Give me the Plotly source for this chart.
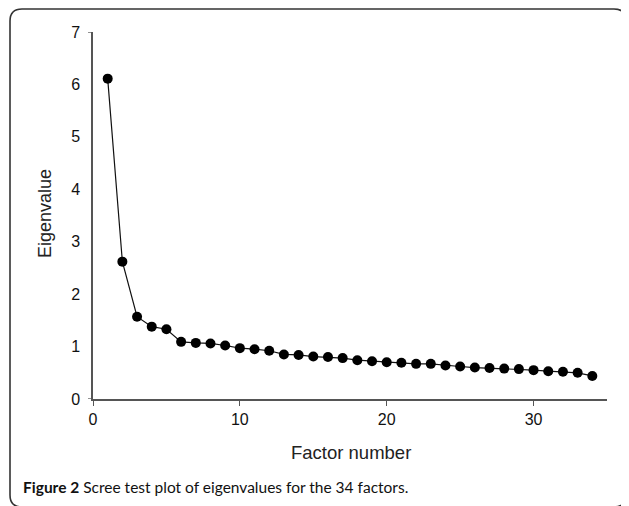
import plotly.graph_objects as go

factor_number = list(range(1, 35))
eigenvalue = [6.11, 2.62, 1.57, 1.38, 1.33, 1.09, 1.07, 1.06, 1.02, 0.97,
              0.95, 0.92, 0.85, 0.84, 0.81, 0.80, 0.78, 0.74, 0.72, 0.70,
              0.69, 0.67, 0.67, 0.64, 0.62, 0.60, 0.59, 0.58, 0.57, 0.55,
              0.53, 0.52, 0.50, 0.44]
x_ticks = [0, 10, 20, 30]
y_ticks = [0, 1, 2, 3, 4, 5, 6, 7]
y_tick_marks = [0, 7]

OFF = 8  # page body margin
W, H = 629, 506
L, R, T, B = 93 - OFF, 22 + OFF, 32 - OFF, 107 + OFF
PW, PH = W - L - R, H - T - B

def px(x):
    return (x - OFF - L) / PW

def py(y):
    return (H - B - (y - OFF)) / PH

fig = go.Figure()
fig.add_trace(go.Scatter(
    x=factor_number, y=eigenvalue, mode="lines+markers",
    line=dict(color="#111111", width=1.2),
    marker=dict(color="#000000", size=10),
    showlegend=False, cliponaxis=False,
))

# rounded frame
x0, y0, x1, y1, r = 10, 9, 626, 507, 12
path = (f"M {px(x0)},{py(y0 + r)} Q {px(x0)},{py(y0)} {px(x0 + r)},{py(y0)} "
        f"L {px(x1 - r)},{py(y0)} Q {px(x1)},{py(y0)} {px(x1)},{py(y0 + r)} "
        f"L {px(x1)},{py(y1 - r)} Q {px(x1)},{py(y1)} {px(x1 - r)},{py(y1)} "
        f"L {px(x0 + r)},{py(y1)} Q {px(x0)},{py(y1)} {px(x0)},{py(y1 - r)} Z")
fig.add_shape(type="path", path=path, xref="paper", yref="paper",
              line=dict(color="#333333", width=1.6), fillcolor="rgba(0,0,0,0)")

# y tick marks only at the ends of the axis
for v in y_tick_marks:
    fig.add_shape(type="line", xref="paper", yref="y", x0=px(88), x1=px(93),
                  y0=v, y1=v, line=dict(color="#555555", width=1.3))

axis_font = dict(family="Arial", size=16, color="#111111")
fig.update_xaxes(range=[0, 35], tickvals=x_ticks, showgrid=False, zeroline=False,
                 showline=True, linecolor="#555555", linewidth=1.5,
                 ticks="outside", ticklen=5, tickcolor="#555555", tickwidth=1.2,
                 tickfont=axis_font, fixedrange=True)
fig.update_yaxes(range=[0, 7], tickvals=y_ticks, showgrid=False, zeroline=False,
                 showline=True, linecolor="#555555", linewidth=1.5,
                 ticks="", ticklabelstandoff=8,
                 tickfont=axis_font, fixedrange=True)

fig.add_annotation(text="Eigenvalue", xref="paper", yref="paper",
                   x=px(45), y=py(214), textangle=-90, showarrow=False,
                   font=dict(family="Arial", size=18, color="#222222"),
                   xanchor="center", yanchor="middle")
fig.add_annotation(text="Factor number", xref="paper", yref="paper",
                   x=px(351), y=py(452), showarrow=False,
                   font=dict(family="Arial", size=18.5, color="#222222"),
                   xanchor="center", yanchor="middle")
fig.add_annotation(text="<b>Figure 2</b> Scree test plot of eigenvalues for the 34 factors.",
                   xref="paper", yref="paper", x=px(21), y=py(487), showarrow=False,
                   font=dict(family="Lato", size=15.5, color="#111111"),
                   xanchor="left", yanchor="middle")

fig.update_layout(width=W, height=H, margin=dict(l=L, r=R, t=T, b=B),
                  paper_bgcolor="white", plot_bgcolor="white")
fig.write_html("out.html")
